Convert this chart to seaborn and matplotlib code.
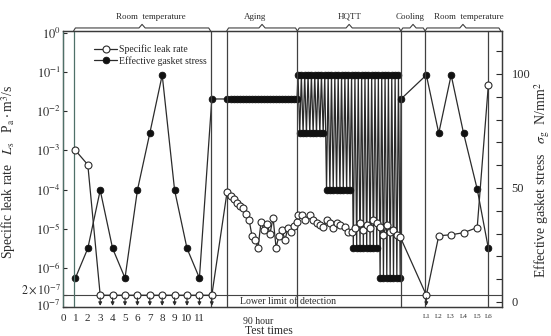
import matplotlib
matplotlib.use("Agg")
import matplotlib.pyplot as plt
import matplotlib.transforms as mtransforms
from matplotlib.ticker import FixedLocator, NullLocator
import seaborn as sns

# ---------------- data ----------------
# Room temperature tests 1..11 plus start of aging (12)
room_x = [1, 2, 3, 4, 5, 6, 7, 8, 9, 10, 11, 12]
room_leak = [1.0e-3, 4.3e-4, 2e-7, 2e-7, 2e-7, 2e-7, 2e-7, 2e-7, 2e-7, 2e-7, 2e-7, 2e-7]
room_stress = [10.5, 23.5, 49, 23.5, 10.5, 49, 74, 99.5, 49, 23.5, 10.5, 89]

# Aging (90 hour)
aging_x = [13.23, 13.55, 13.79, 14.03, 14.27, 14.52, 14.76, 15.00, 15.24, 15.48,
           15.73, 15.97, 16.21, 16.45, 16.69, 16.94, 17.18, 17.42, 17.66, 17.90,
           18.15, 18.39, 18.63, 18.87]
aging_leak = [8.7e-5, 6.9e-5, 5.8e-5, 4.6e-5, 3.9e-5, 3.3e-5, 2.4e-5, 1.7e-5, 6.6e-6, 5.2e-6,
              3.3e-6, 1.5e-5, 9.4e-6, 1.35e-5, 7.4e-6, 1.9e-5, 3.3e-6, 6.6e-6, 9.4e-6, 5.2e-6,
              1.07e-5, 8.3e-6, 1.2e-5, 1.5e-5]
aging_stress = [89, 89, 89, 89, 89, 89, 89, 89, 89, 89, 89, 89,
                89, 89, 89, 89, 89, 89, 89, 89, 89, 89, 89, 89]

# HQTT
hqtt_leak_x = [18.95, 19.27, 19.52, 19.92, 20.16, 20.48, 20.73, 20.97, 21.29, 21.53,
               21.77, 22.10, 22.34, 22.74, 22.98, 23.31, 23.55, 23.95, 24.19, 24.52,
               24.76, 25.00, 25.32, 25.56, 25.81, 26.13, 26.37, 26.61, 26.94, 27.18]
hqtt_leak = [2.3e-5, 2.3e-5, 1.7e-5, 2.3e-5, 1.7e-5, 1.4e-5, 1.26e-5, 1.12e-5, 1.7e-5, 1.4e-5,
             1.07e-5, 1.4e-5, 1.26e-5, 1.12e-5, 8.3e-6, 8.3e-6, 1.07e-5, 1.4e-5, 9.4e-6, 1.26e-5,
             1.07e-5, 1.7e-5, 1.4e-5, 1.12e-5, 7.1e-6, 1.26e-5, 8.3e-6, 9.4e-6, 7.1e-6, 6.3e-6]
hqtt_stress_x = [18.95, 19.09, 19.22, 19.36, 19.49, 19.63, 19.76, 19.90, 20.03, 20.17,
                 20.30, 20.44, 20.57, 20.71, 20.84, 20.98, 21.11, 21.25, 21.38, 21.52,
                 21.65, 21.79, 21.92, 22.06, 22.19, 22.33, 22.46, 22.60, 22.73, 22.87,
                 23.00, 23.14, 23.27, 23.41, 23.54, 23.68, 23.81, 23.95, 24.08, 24.22,
                 24.35, 24.49, 24.62, 24.76, 24.89, 25.03, 25.16, 25.30, 25.43, 25.57,
                 25.70, 25.84, 25.97, 26.11, 26.24, 26.38, 26.51, 26.65, 26.78, 26.92,
                 27.05, 27.19]
hqtt_stress = [99.5, 74, 99.5, 74, 99.5, 74, 99.5, 74, 99.5, 74, 99.5, 74, 99.5, 74, 99.5, 74,
               99.5, 49, 99.5, 49, 99.5, 49, 99.5, 49, 99.5, 49, 99.5, 49, 99.5, 49, 99.5, 49,
               99.5, 23.5, 99.5, 23.5, 99.5, 23.5, 99.5, 23.5, 99.5, 23.5, 99.5, 23.5, 99.5, 23.5, 99.5, 23.5,
               99.5, 10.5, 99.5, 10.5, 99.5, 10.5, 99.5, 10.5, 99.5, 10.5, 99.5, 10.5, 99.5, 10.5]

# Cooling
cool_x = [27.26]
cool_stress = [89]

# Room temperature after cycling (L1..L6)
late_x = [29.3, 30.3, 31.3, 32.3, 33.4, 34.3]
late_labels = ["L1", "L2", "L3", "L4", "L5", "L6"]
late_leak = [2e-7, 6.6e-6, 7.0e-6, 7.9e-6, 1.07e-5, 4.7e-2]
late_stress = [99.5, 74, 99.5, 74, 49.5, 23.5]

detection_limit = 2e-7

test_ticks = [0, 1, 2, 3, 4, 5, 6, 7, 8, 9, 10, 11]
section_lines = [0.85, 11.9, 13.2, 18.9, 27.25, 29.2, 34.3]
sections = ["Room  temperature", "Aging", "HQTT", "Cooling", "Room  temperature"]
section_spans = [(0.85, 11.9), (13.2, 18.9), (18.9, 27.25), (27.25, 29.2), (29.2, 35.3)]
section_text_x = [7.1, 15.5, 23.1, 28.0, 32.7]

left_ticks = [1, 1e-1, 1e-2, 1e-3, 1e-4, 1e-5, 1e-6, 2e-7, 1e-7]
left_labels = [r"$10^{0}$", r"$10^{-1}$", r"$10^{-2}$", r"$10^{-3}$", r"$10^{-4}$",
               r"$10^{-5}$", r"$10^{-6}$", "", ""]
low_labels = [r"$2\times10^{-7}$", r"$10^{-7}$"]

# ---------------- style ----------------
sns.set_style("ticks")
plt.rcParams["font.family"] = ["Liberation Serif", "DejaVu Serif"]
plt.rcParams["mathtext.fontset"] = "stix"

ink = "#2b2b2b"
frame_c = "#3a3a3a"
green_c = "#4f7068"

leak_x = room_x + aging_x + hqtt_leak_x + late_x
leak_y = room_leak + aging_leak + hqtt_leak + late_leak
stress_x = room_x + aging_x + hqtt_stress_x + cool_x + late_x
stress_y = room_stress + aging_stress + hqtt_stress + cool_stress + late_stress

W, H = 551, 336
fig = plt.figure(figsize=(W / 100, H / 100), dpi=100)
ax = fig.add_axes([63 / W, 1 - 307 / H, (502 - 63) / W, (307 - 31) / H])
ax2 = ax.twinx()

# stress on right axis
sns.lineplot(x=stress_x, y=stress_y, ax=ax2, sort=False, estimator=None,
             color=ink, lw=0.9, marker="o", markersize=4.8,
             markerfacecolor="#111111", markeredgecolor="#111111", markeredgewidth=0.6,
             label="Effective gasket stress", legend=False)

# leak rate on left axis
sns.lineplot(x=leak_x, y=leak_y, ax=ax, sort=False, estimator=None,
             color=ink, lw=0.9, marker="o", markersize=5,
             markerfacecolor="white", markeredgecolor=ink, markeredgewidth=0.8,
             label="Specific leak rate", legend=False)

ax.set_zorder(ax2.get_zorder() + 1)
ax.patch.set_visible(False)

ax.set_yscale("log")
ax.set_ylim(1e-7, 1.12)
ax.set_xlim(0, 35.4)
ax2.set_ylim(-2.2, 118.8)

# lower limit of detection
ax.axhline(detection_limit, color="#444444", lw=0.8, zorder=1)
ax.text(14.3, 1.42e-7, "Lower limit of detection", fontsize=7, va="center", ha="left", color=ink)

# arrows for values below detection limit
for xv, yv in zip(leak_x, leak_y):
    if yv <= detection_limit:
        ax.annotate("", xy=(xv, 1.07e-7), xytext=(xv, 1.72e-7),
                    arrowprops=dict(arrowstyle="-|>", lw=0.8, color=ink,
                                    mutation_scale=5, shrinkA=0, shrinkB=0))

# section lines and braces
trans = mtransforms.blended_transform_factory(ax.transData, ax.transAxes)
for i, xv in enumerate(section_lines):
    ax.plot([xv, xv], [0, 1.0], transform=trans, color=green_c if i == 0 else "#404040",
            lw=0.9, clip_on=False, zorder=1)
for (x0, x1), name, tx in zip(section_spans, sections, section_text_x):
    xm = (x0 + x1) / 2
    h, tip = 0.011, 0.024
    xs = [x0, x0 + 0.15, xm - 0.25, xm, xm + 0.25, x1 - 0.15, x1]
    ys = [1.0, 1 + h, 1 + h, 1 + tip, 1 + h, 1 + h, 1.0]
    ax.plot(xs, ys, transform=trans, color="#404040", lw=0.8, clip_on=False)
    ax.text(tx, 1.052, name, transform=trans, ha="center", va="center", fontsize=6.5, color=ink)

# left axis ticks
ax.yaxis.set_major_locator(FixedLocator(left_ticks))
ax.set_yticklabels(left_labels)
ax.yaxis.set_minor_locator(NullLocator())
ax.tick_params(axis="y", which="major", direction="in", length=3, width=0.8,
               labelsize=9, pad=1.5, colors=ink)
# bottom two left labels placed by hand to avoid collision
fig.text(61 / W, 1 - 290 / H, low_labels[0], fontsize=8.5, ha="right", va="center", color=ink)
fig.text(61 / W, 1 - 306 / H, low_labels[1], fontsize=9, ha="right", va="center", color=ink)

ax.set_ylabel(r"Specific leak rate   $L_{\rm s}$   P$_{\rm a}\cdot$m$^{3}$/s",
              fontsize=9.8, color=ink, labelpad=1)
ax.yaxis.set_label_coords(-0.102, 0.49)

# x ticks
ax.set_xticks(test_ticks + late_x)
ax.set_xticklabels([str(t) for t in test_ticks] + late_labels)
ax.tick_params(axis="x", length=0, labelsize=8, pad=5, colors=ink)
for lab in ax.get_xticklabels():
    if lab.get_text().startswith("L"):
        lab.set_fontsize(5)

# right axis ticks
ax2.yaxis.set_major_locator(FixedLocator([0, 10, 20, 30, 40, 50, 60, 70, 80, 90, 100, 110]))
ax2.set_yticklabels(["0", "", "", "", "", "50", "", "", "", "", "100", ""])
ax2.tick_params(axis="y", direction="in", length=4, width=0.8, labelsize=9, pad=7, colors=ink)
ax2.set_ylabel(r"Effective gasket stress   $\sigma_{\rm g}$  N/mm$^{2}$", fontsize=10,
               color=ink, rotation=90, labelpad=6)
ax2.yaxis.set_label_coords(1.07, 0.46)

for a in (ax, ax2):
    for s in a.spines.values():
        s.set_color(frame_c)
        s.set_linewidth(0.9)
ax.spines["left"].set_color(green_c)

# legend
h1, l1 = ax.get_legend_handles_labels()
h2, l2 = ax2.get_legend_handles_labels()
ax.legend(h1 + h2, l1 + l2, loc="upper left", bbox_to_anchor=(0.055, 0.975), frameon=False,
          fontsize=7, handlelength=2.4, handletextpad=0.2, labelspacing=0.15, borderpad=0.2)

fig.text(258 / W, 1 - 321 / H, "90 hour", fontsize=7, ha="center", va="center", color=ink)
fig.text(245 / W, 1 - 325 / H, "Test times", fontsize=8.5, ha="left", va="top", color=ink)

fig.savefig("out.png", dpi=100)
